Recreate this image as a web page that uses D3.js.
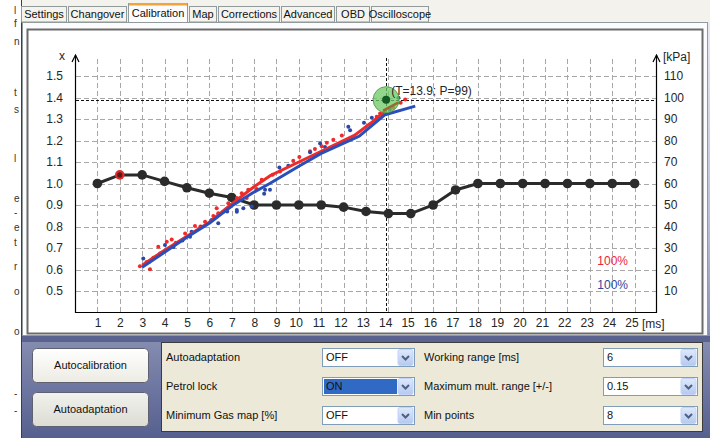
<!DOCTYPE html>
<html>
<head>
<meta charset="utf-8">
<script src="https://cdn.jsdelivr.net/npm/d3@7"></script>
<style>
  html, body { margin: 0; padding: 0; background: #fff; }
  svg { display: block; font-family: "Liberation Sans", Arial, sans-serif; }
  .tick-text { font-size: 12px; fill: #262626; }
  .ui { font-size: 11px; fill: #111; }
</style>
</head>
<body>
<svg id="chart" width="710" height="438"></svg>
<script>
// ── DATA ──────────────────────────────────────────────────────────────────
const msTicks   = [1,2,3,4,5,6,7,8,9,10,11,12,13,14,15,16,17,18,19,20,21,22,23,24,25];
const multTicks = [0.5,0.6,0.7,0.8,0.9,1.0,1.1,1.2,1.3,1.4,1.5];
const kpaTicks  = [10,20,30,40,50,60,70,80,90,100,110];

// correction map (black line), one value per ms point
const mapMult = [1.00,1.04,1.04,1.01,0.98,0.955,0.935,0.90,0.90,0.90,0.90,0.89,0.87,0.86,0.86,0.90,0.97,1.00,1.00,1.00,1.00,1.00,1.00,1.00,1.00];
const selectedIdx = 1;

// fitted curves
const redCurveT  = [3.0, 4.0, 5.0, 6.0, 7.0, 8.0, 8.7, 10.0, 11.0, 12.5, 13.2, 13.9];
const redCurveX  = [0.62,0.69,0.755,0.82,0.905,0.985,1.035,1.10,1.15,1.225,1.28,1.34];
const blueCurveT = [3.0, 4.0, 5.0, 6.0, 7.0, 8.0, 8.7, 10.0, 11.0, 12.7, 13.85, 15.2];
const blueCurveX = [0.61,0.68,0.75,0.815,0.895,0.96,1.0,1.08,1.14,1.22,1.32,1.36];

// sampled points
const redPtsT  = [2.90,3.35,3.20,3.72,4.10,4.32,4.92,5.36,5.81,6.18,6.40,6.63,6.33,6.85,7.23,7.45,7.67,7.74,8.12,8.34,8.83,9.16,9.75,10.02,10.50,10.72,11.02,11.25,11.54,11.92,13.48,13.63,14.22,14.55,14.75,3.5,4.5,5.6,6.9];
const redPtsX  = [0.615,0.601,0.635,0.706,0.729,0.740,0.768,0.802,0.822,0.849,0.862,0.869,0.885,0.908,0.932,0.955,0.932,0.971,0.974,1.017,1.041,1.056,1.106,1.123,1.150,1.161,1.173,1.189,1.204,1.223,1.310,1.326,1.352,1.376,1.391,0.655,0.725,0.80,0.89];
const bluePtsT = [3.05,3.80,4.02,5.14,5.21,5.66,6.40,7.23,7.23,7.52,7.90,8.45,8.49,8.71,9.13,9.53,10.50,10.95,11.17,12.21,12.29,12.91,13.26,14.07,14.45,3.3,4.4,4.8,6.1,6.8];
const bluePtsX = [0.651,0.675,0.714,0.752,0.776,0.799,0.815,0.869,0.877,0.885,0.893,0.952,0.971,0.971,1.075,1.083,1.145,1.186,1.170,1.264,1.248,1.282,1.306,1.344,1.399,0.635,0.705,0.735,0.83,0.87];

const cursorT = 13.9, cursorP = 99;

// UI texts
const tabs = ['Settings','Changover','Calibration','Map','Corrections','Advanced','OBD','Oscilloscope'];
const tabEdges = [21,68,128,189,218,281,336,371,430];
const leftLabels  = ['Autoadaptation','Petrol lock','Minimum Gas map [%]'];
const leftValues  = ['OFF','ON','OFF'];
const rightLabels = ['Working range [ms]','Maximum mult. range [+/-]','Min points'];
const rightValues = ['6','0.15','8'];
const buttons = ['Autocalibration','Autoadaptation'];
const edgeChars  = ['l','f','n','t','s','l','e','-','e','t','r','o','o','-','-'];
const edgeCharsY = [14,27,45,96,113,162,202,216,231,246,270,295,335,397,414];

// ── SETUP ─────────────────────────────────────────────────────────────────
const svg = d3.select('#chart');
const defs = svg.append('defs');

const grad = defs.append('linearGradient').attr('id','winGrad').attr('x1',0).attr('y1',0).attr('x2',0).attr('y2',1);
grad.append('stop').attr('offset','0%').attr('stop-color','#eceef4');
grad.append('stop').attr('offset','55%').attr('stop-color','#b4b9d2');
grad.append('stop').attr('offset','100%').attr('stop-color','#56608f');

const btnGrad = defs.append('linearGradient').attr('id','btnGrad').attr('x1',0).attr('y1',0).attr('x2',0).attr('y2',1);
btnGrad.append('stop').attr('offset','0%').attr('stop-color','#ffffff');
btnGrad.append('stop').attr('offset','100%').attr('stop-color','#ecebe3');
const btnGrad2 = defs.append('linearGradient').attr('id','btnGrad2').attr('x1',0).attr('y1',0).attr('x2',0).attr('y2',1);
btnGrad2.append('stop').attr('offset','0%').attr('stop-color','#f2f2ee');
btnGrad2.append('stop').attr('offset','100%').attr('stop-color','#dcdcd4');

const ddGrad = defs.append('linearGradient').attr('id','ddGrad').attr('x1',0).attr('y1',0).attr('x2',0).attr('y2',1);
ddGrad.append('stop').attr('offset','0%').attr('stop-color','#dfe9fb');
ddGrad.append('stop').attr('offset','100%').attr('stop-color','#b5c9ef');

// page strip on the left (cropped article text)
svg.append('rect').attr('x',0).attr('y',0).attr('width',21).attr('height',438).attr('fill','#fff');
svg.append('g').selectAll('text').data(edgeChars).join('text')
  .attr('x',14).attr('y',(d,i) => edgeCharsY[i])
  .attr('font-size',10).attr('fill','#333').text(d => d);

// window background
svg.append('rect').attr('x',21).attr('y',0).attr('width',689).attr('height',438).attr('fill','url(#winGrad)');
svg.append('line').attr('x1',21.5).attr('x2',21.5).attr('y1',0).attr('y2',438).attr('stroke','#3c3c50');
svg.append('rect').attr('x',22).attr('y',0).attr('width',688).attr('height',22).attr('fill','#f3f2ec');

// tabs
const tabG = svg.append('g');
tabs.forEach((t, i) => {
  const sel = t === 'Calibration';
  const x0 = tabEdges[i], x1 = tabEdges[i + 1] - 1;
  tabG.append('rect').attr('x', x0 + 0.5).attr('y', sel ? 3.5 : 6.5)
    .attr('width', x1 - x0 - 1).attr('height', sel ? 19 : 15.5)
    .attr('fill', sel ? '#fcfcfe' : '#f4f3ee').attr('stroke','#919b9c');
  if (sel) tabG.append('rect').attr('x', x0 + 1).attr('y', 3).attr('width', x1 - x0 - 2).attr('height', 2.5).attr('fill','#f0a43a');
  tabG.append('text').attr('class','ui').attr('x',(x0 + x1) / 2).attr('y', sel ? 17 : 18)
    .attr('text-anchor','middle').text(t);
});

// chart panel
svg.append('rect').attr('x',22.5).attr('y',22.5).attr('width',685).attr('height',313).attr('fill','#fcfcfe').attr('stroke','#919b9c');
svg.append('rect').attr('x',27.5).attr('y',29.5).attr('width',675).attr('height',304).attr('fill','#fff').attr('stroke','#6b6b6b').attr('stroke-width',2);

// ── CHART ─────────────────────────────────────────────────────────────────
const x  = d3.scaleLinear().domain([0, 26]).range([75, 657]);
const y  = d3.scaleLinear().domain([0.4, 1.6]).range([312.5, 54.5]);
const yk = d3.scaleLinear().domain([0, 120]).range([312.5, 54.5]);

const g = svg.append('g');

// grid
g.append('g').selectAll('line').data(msTicks).join('line')
  .attr('x1', d => Math.round(x(d)) + 0.5).attr('x2', d => Math.round(x(d)) + 0.5)
  .attr('y1', 59).attr('y2', 312)
  .attr('stroke','#a8a8a8').attr('stroke-dasharray','5 3');
g.append('g').selectAll('line').data(multTicks).join('line')
  .attr('x1', 76).attr('x2', 656)
  .attr('y1', d => Math.round(y(d)) + 0.5).attr('y2', d => Math.round(y(d)) + 0.5)
  .attr('stroke','#a8a8a8').attr('stroke-dasharray','5 3');

// axes
const xAxis = g.append('g').attr('transform','translate(0,312.5)')
  .call(d3.axisBottom(x).tickValues(msTicks).tickSize(0).tickPadding(6));
xAxis.select('.domain').remove();
xAxis.selectAll('text').attr('class','tick-text').attr('font-family',null).attr('font-size',null)
  .attr('text-anchor','end').attr('x', 3.5);

const yAxis = g.append('g').attr('transform','translate(75,0)')
  .call(d3.axisLeft(y).tickValues(multTicks).tickFormat(d3.format('.1f')).tickSize(0).tickPadding(12));
yAxis.select('.domain').remove();
yAxis.selectAll('text').attr('class','tick-text').attr('font-family',null).attr('font-size',null);

const kAxis = g.append('g').attr('transform','translate(657,0)')
  .call(d3.axisRight(yk).tickValues(kpaTicks).tickSize(0).tickPadding(7));
kAxis.select('.domain').remove();
kAxis.selectAll('text').attr('class','tick-text').attr('font-family',null).attr('font-size',null);

[75.5, 656.5].forEach(ax => {
  g.append('line').attr('x1',ax).attr('x2',ax).attr('y1',313).attr('y2',55)
    .attr('stroke','#000').attr('stroke-width',1.2);
  g.append('path').attr('d',`M${ax - 3.5},${62} L${ax},${55} L${ax + 3.5},${62}`)
    .attr('fill','none').attr('stroke','#000').attr('stroke-width',1.2);
});
g.append('line').attr('x1',75).attr('x2',657).attr('y1',312.5).attr('y2',312.5).attr('stroke','#000').attr('stroke-width',1.2);

g.append('text').attr('class','tick-text').attr('x',65).attr('y',60).attr('text-anchor','end').text('x');
g.append('text').attr('class','tick-text').attr('x',663).attr('y',61).text('[kPa]');
g.append('text').attr('class','tick-text').attr('x',642).attr('y',328).text('[ms]');

// cursor lines
g.append('line').attr('x1',76).attr('x2',656)
  .attr('y1', Math.round(yk(cursorP)) + 0.5).attr('y2', Math.round(yk(cursorP)) + 0.5)
  .attr('stroke','#111').attr('stroke-dasharray','3 2');
g.append('line').attr('x1', Math.round(x(cursorT)) + 0.5).attr('x2', Math.round(x(cursorT)) + 0.5)
  .attr('y1', 58).attr('y2', 312)
  .attr('stroke','#111').attr('stroke-dasharray','3 2');

// map line
const mapData = msTicks.map((t, i) => [t, mapMult[i]]);
const line = d3.line().x(d => x(d[0])).y(d => y(d[1]));
g.append('path').attr('d', line(mapData)).attr('fill','none').attr('stroke','#2b2b2b').attr('stroke-width',3);
g.append('g').selectAll('circle').data(mapData).join('circle')
  .attr('cx', d => x(d[0])).attr('cy', d => y(d[1])).attr('r', 4.8)
  .attr('fill', (d, i) => i === selectedIdx ? '#e22b2b' : '#2b2b2b');
g.append('circle').attr('cx', x(mapData[selectedIdx][0])).attr('cy', y(mapData[selectedIdx][1])).attr('r', 2.6).attr('fill','#5a1a1a');

// sampled points
const redPts  = redPtsT.map((t, i) => [t, redPtsX[i]]);
const bluePts = bluePtsT.map((t, i) => [t, bluePtsX[i]]);
g.append('g').selectAll('circle').data(redPts).join('circle')
  .attr('cx', d => x(d[0])).attr('cy', d => y(d[1])).attr('r', 2).attr('fill','#ee2a2a');
g.append('g').selectAll('circle').data(bluePts).join('circle')
  .attr('cx', d => x(d[0])).attr('cy', d => y(d[1])).attr('r', 2).attr('fill','#2a48a8');

// fitted curves
const redCurve  = redCurveT.map((t, i) => [t, redCurveX[i]]);
const blueCurve = blueCurveT.map((t, i) => [t, blueCurveX[i]]);
g.append('path').attr('d', line(redCurve)).attr('fill','none').attr('stroke','#ee2a2a').attr('stroke-width',3).attr('stroke-linejoin','round');
g.append('path').attr('d', line(blueCurve)).attr('fill','none').attr('stroke','#2a4fb8').attr('stroke-width',3).attr('stroke-linejoin','round');

// cursor marker
const cx = x(cursorT), cy = yk(cursorP);
g.append('circle').attr('cx', cx).attr('cy', cy).attr('r', 13).attr('fill','rgba(110,200,100,0.75)').attr('stroke','#55a855');
g.append('line').attr('x1', cx - 3).attr('y1', cy + 11).attr('x2', cx + 12).attr('y2', cy + 3)
  .attr('stroke','#9a6a2a').attr('stroke-width',2.5);
g.append('circle').attr('cx', cx).attr('cy', cy).attr('r', 4).attr('fill','#145a25');
g.append('text').attr('class','tick-text').attr('x', cx + 5).attr('y', cy - 5)
  .text(`(T=${cursorT}; P=${cursorP})`);

// legend percentages
g.append('text').attr('x',628).attr('y',265).attr('text-anchor','end').attr('font-size',12).attr('fill','#e8283a').text('100%');
g.append('text').attr('x',628).attr('y',289).attr('text-anchor','end').attr('font-size',12).attr('fill','#2f48a0').text('100%');

// ── CONTROLS ──────────────────────────────────────────────────────────────
svg.append('rect').attr('x',22).attr('y',336).attr('width',688).attr('height',6).attr('fill','#5a6290');

buttons.forEach((b, i) => {
  const by = i === 0 ? 348 : 392;
  svg.append('rect').attr('x',32.5).attr('y',by + 0.5).attr('width',116).attr('height',34).attr('rx',4)
    .attr('fill', i === 0 ? 'url(#btnGrad)' : 'url(#btnGrad2)').attr('stroke','#5f6070');
  svg.append('text').attr('class','ui').attr('x',90.5).attr('y',by + 21).attr('text-anchor','middle').text(b);
});

svg.append('rect').attr('x',161.5).attr('y',342.5).attr('width',541).attr('height',89)
  .attr('fill','#ece9d8').attr('stroke','#3c3c3c');

function dropdown(x0, x1, yTop, val, selected) {
  svg.append('rect').attr('x', x0 + 0.5).attr('y', yTop + 0.5).attr('width', x1 - x0).attr('height', 18)
    .attr('fill','#fff').attr('stroke','#7f9db9');
  if (selected) svg.append('rect').attr('x', x0 + 2).attr('y', yTop + 2).attr('width', x1 - x0 - 19).attr('height', 15).attr('fill','#316ac5');
  svg.append('text').attr('class','ui').attr('x', x0 + 4).attr('y', yTop + 13)
    .attr('fill', selected ? '#fff' : '#111').text(val);
  const bx = x1 - 16;
  svg.append('rect').attr('x', bx).attr('y', yTop + 1.5).attr('width', 15).attr('height', 16).attr('rx',2)
    .attr('fill','url(#ddGrad)').attr('stroke','#c3d3fd');
  svg.append('path').attr('d', `M${bx + 4},${yTop + 8} L${bx + 7.5},${yTop + 11.5} L${bx + 11},${yTop + 8}`)
    .attr('fill','none').attr('stroke','#4d6185').attr('stroke-width',2);
}

leftLabels.forEach((l, i) => {
  const ry = 348 + i * 29;
  svg.append('text').attr('class','ui').attr('x',166).attr('y', ry + 13).text(l);
  dropdown(322, 414, ry, leftValues[i], leftValues[i] === 'ON');
  svg.append('text').attr('class','ui').attr('x',424).attr('y', ry + 13).text(rightLabels[i]);
  dropdown(603, 697, ry, rightValues[i], false);
});
</script>
</body>
</html>
